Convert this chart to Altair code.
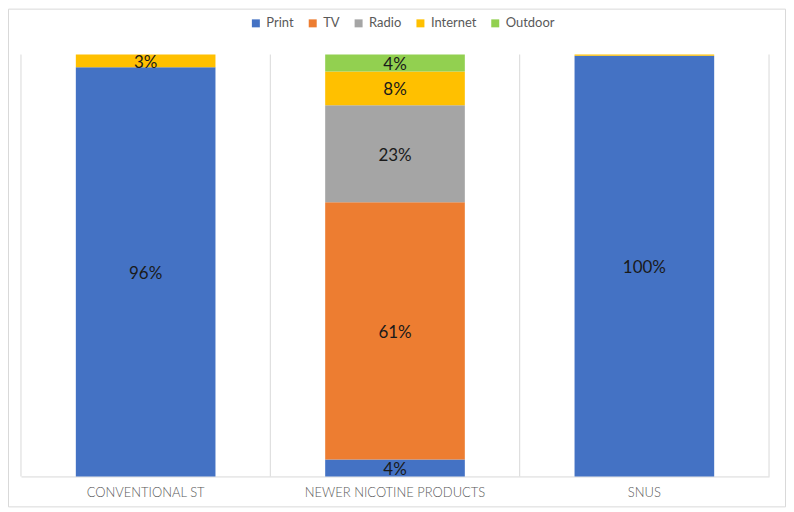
import altair as alt
import pandas as pd

categories = ["CONVENTIONAL ST", "NEWER NICOTINE PRODUCTS", "SNUS"]
media = ["Print", "TV", "Radio", "Internet", "Outdoor"]
colors = ["#4472C4", "#ED7D31", "#A5A5A5", "#FFC000", "#92D050"]

conventional = [96, 0, 0, 3, 0]
newer = [4, 61, 23, 8, 4]
snus = [100, 0, 0, 0.3, 0]

rows = []
for cat, vals in zip(categories, [conventional, newer, snus]):
    for i, (m, v) in enumerate(zip(media, vals)):
        if v > 0:
            rows.append({"cat": cat, "media": m, "value": v, "order": i})
df = pd.DataFrame(rows)

FONT = "Lato"
GRID = "#D9D9D9"

base = alt.Chart(df).transform_stack(
    stack="value", groupby=["cat"], as_=["s0", "s1"], sort=[alt.SortField("order")]
).transform_joinaggregate(
    total="sum(value)", groupby=["cat"]
).transform_calculate(
    y0="datum.s0 / datum.total",
    y1="datum.s1 / datum.total",
    mid="(datum.s0 + datum.s1) / 2 / datum.total",
    label="format(datum.value, 'd') + '%'",
)

xaxis = alt.Axis(
    grid=False, ticks=False,
    domainColor=GRID, labelAngle=0, labelFont=FONT, labelFontSize=13,
    labelFontWeight=300, labelColor="#595959", labelPadding=10, labelLimit=0,
)
xscale = alt.Scale(paddingInner=0.44, paddingOuter=0.22)
yscale = alt.Scale(domain=[0, 1])

# category boundaries (index of the gap between categories)
boundaries = pd.DataFrame({"b": list(range(len(categories) + 1))})
rules = alt.Chart(boundaries).mark_rule(color=GRID, strokeWidth=1).encode(
    x=alt.X("b:Q", scale=alt.Scale(domain=[0, len(categories)], nice=False, zero=False), axis=None),
    y=alt.value(0), y2=alt.value(423),
)

bars = base.mark_bar().encode(
    x=alt.X("cat:N", sort=categories, title=None, scale=xscale, axis=xaxis),
    y=alt.Y("y0:Q", scale=yscale, axis=None),
    y2="y1:Q",
    color=alt.Color(
        "media:N", scale=alt.Scale(domain=media, range=colors), title=None,
        legend=alt.Legend(
            orient="none", legendX=229, legendY=-38, direction="horizontal",
            symbolType="square", symbolSize=64, symbolStrokeWidth=0,
            labelFont=FONT, labelFontSize=13, labelColor="#595959",
            columnPadding=12, symbolOffset=0,
        ),
    ),
    order=alt.Order("order:Q"),
)

labels = base.transform_filter("datum.value >= 1").mark_text(
    font=FONT, fontSize=17, color="#1A1A1A", baseline="middle", dy=2
).encode(
    x=alt.X("cat:N", sort=categories, title=None, scale=xscale, axis=xaxis),
    y=alt.Y("mid:Q", scale=yscale, axis=None),
    text="label:N",
)

frame = alt.Chart(pd.DataFrame({"a": [0]})).mark_rect(
    fill=None, stroke=GRID, strokeWidth=1
).encode(
    x=alt.value(-12.5), x2=alt.value(766.5), y=alt.value(-45.5), y2=alt.value(453.5)
)

chart = alt.layer(rules, alt.layer(bars, labels), frame).resolve_scale(
    x="independent"
).properties(
    width=750, height=423,
    autosize=alt.AutoSizeParams(type="none"),
    padding={"left": 13, "top": 46, "right": 17, "bottom": 31},
).configure_view(stroke=None)

chart.save("out.html", embed_options={"renderer": "svg", "actions": False})
